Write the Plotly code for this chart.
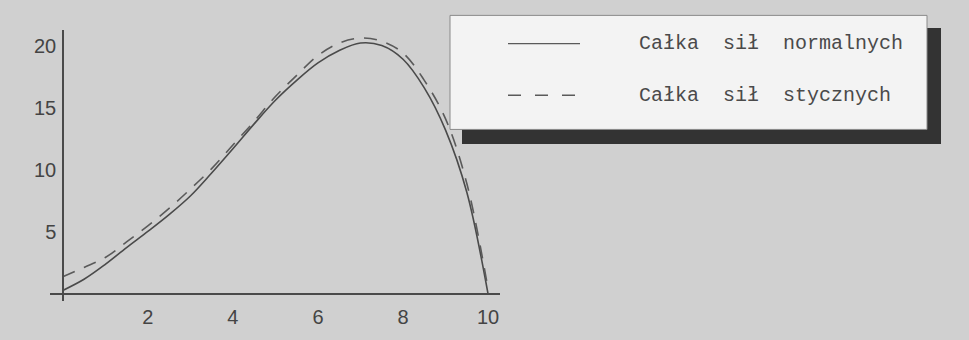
import plotly.graph_objects as go

# ---- data ----
x_vals = [0, 0.5, 1, 1.5, 2, 2.5, 3, 3.5, 4, 4.5, 5, 5.5, 6, 6.5, 7, 7.5, 8, 8.5, 9, 9.5, 10]
normalne = [0.3, 1.2, 2.4, 3.75, 5.05, 6.4, 7.9, 9.75, 11.7, 13.7, 15.6, 17.2, 18.6, 19.6, 20.2, 20.0, 18.9, 16.6, 13.2, 8.2, 0.0]
styczne = [1.4, 2.15, 2.95, 4.2, 5.5, 6.9, 8.45, 10.1, 12.0, 13.9, 15.9, 17.6, 19.2, 20.2, 20.6, 20.35, 19.4, 17.2, 14.1, 8.9, 0.4]
x_ticks = [2, 4, 6, 8, 10]
y_ticks = [5, 10, 15, 20]
legend_labels = ["Całka  sił  normalnych", "Całka  sił  stycznych"]

W, H = 969, 340
L, R, T, B = 50, 469, 30, 32
PW, PH = W - L - R, H - T - B


def px(xp):
    return (xp - L) / PW


def py(yp):
    return (H - B - yp) / PH


fig = go.Figure()
fig.add_trace(go.Scatter(x=x_vals, y=normalne, mode="lines", name=legend_labels[0],
                         line=dict(color="#4a4a4a", width=1.6, shape="spline", smoothing=1.0),
                         showlegend=False))
fig.add_trace(go.Scatter(x=x_vals, y=styczne, mode="lines", name=legend_labels[1],
                         line=dict(color="#5a5a5a", width=1.6, dash="13px,10px", shape="spline", smoothing=1.0),
                         showlegend=False))

# legend box with shadow
shapes = [
    dict(type="rect", xref="paper", yref="paper", x0=px(462), x1=px(941), y0=py(147), y1=py(28),
         fillcolor="#333333", line=dict(width=0), layer="above"),
    dict(type="rect", xref="paper", yref="paper", x0=px(450), x1=px(927), y0=py(132), y1=py(15),
         fillcolor="#f3f3f3", line=dict(color="#8a8a8a", width=1), layer="above"),
    dict(type="line", xref="paper", yref="paper", x0=px(508), x1=px(580), y0=py(44), y1=py(44),
         line=dict(color="#5a5a5a", width=1.4), layer="above"),
    dict(type="line", xref="paper", yref="paper", x0=px(508), x1=px(580), y0=py(97), y1=py(97),
         line=dict(color="#5a5a5a", width=1.4, dash="13px,14px"), layer="above"),
]
annotations = [
    dict(xref="paper", yref="paper", x=px(637), y=py(44), text=legend_labels[0], showarrow=False,
         xanchor="left", yanchor="middle", font=dict(family="Liberation Mono", size=20, color="#4a4a4a")),
    dict(xref="paper", yref="paper", x=px(637), y=py(97), text=legend_labels[1], showarrow=False,
         xanchor="left", yanchor="middle", font=dict(family="Liberation Mono", size=20, color="#4a4a4a")),
]

fig.update_layout(
    width=W, height=H,
    margin=dict(l=L, r=R, t=T, b=B, pad=0),
    paper_bgcolor="#d0d0d0", plot_bgcolor="#d0d0d0",
    shapes=shapes, annotations=annotations,
    font=dict(family="Liberation Sans", size=20, color="#444444"),
    xaxis=dict(range=[-0.3, 10.28], tickvals=x_ticks, showgrid=False, zeroline=False,
               showline=True, linecolor="#4a4a4a", linewidth=1.5, ticks="",
               anchor="free", position=py(301), ticklabelstandoff=5),
    yaxis=dict(range=[-0.55, 21.25], tickvals=y_ticks, showgrid=False, zeroline=False,
               showline=True, linecolor="#4a4a4a", linewidth=1.5, ticks="",
               anchor="free", position=px(63), ticklabelstandoff=2),
)

fig.write_html("out.html", config={"displayModeBar": False},
               post_script="document.body.style.margin='0';document.body.style.overflow='hidden';")
